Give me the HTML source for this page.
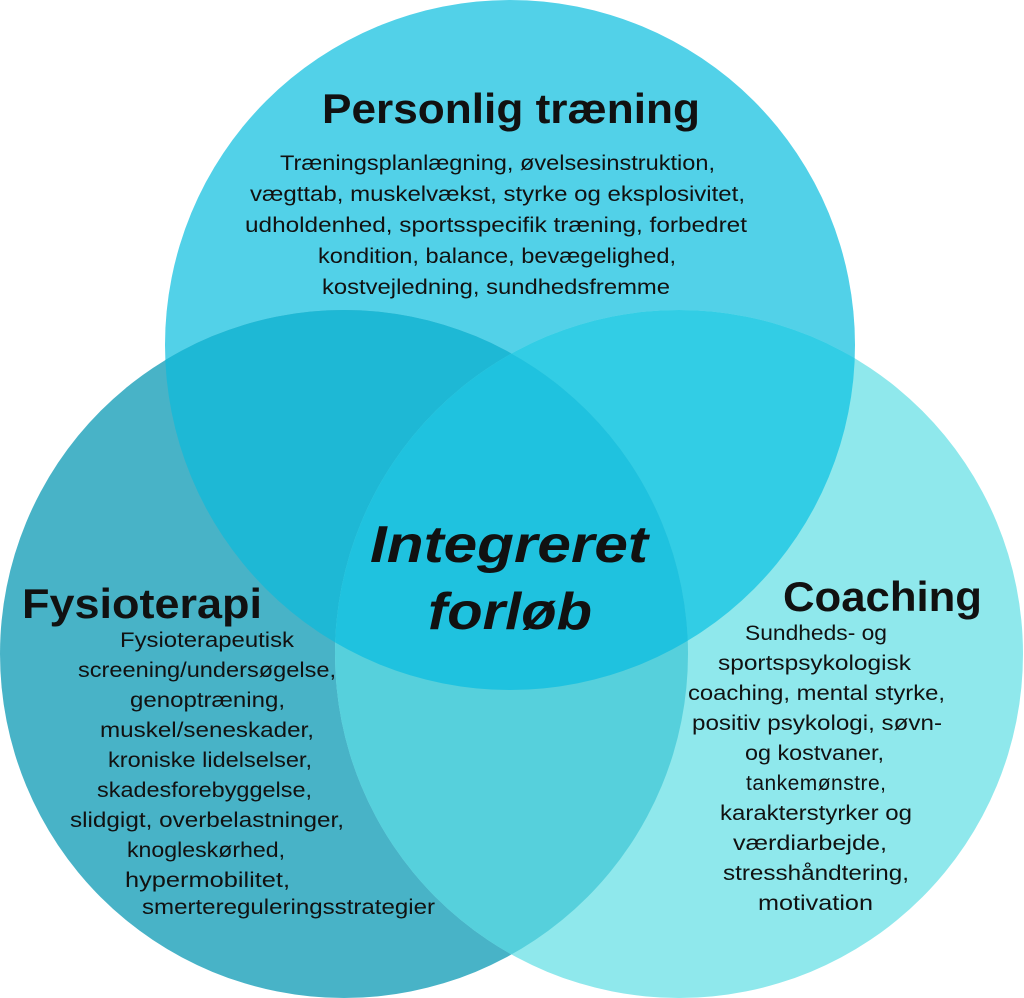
<!DOCTYPE html>
<html><head><meta charset="utf-8"><style>
html,body{margin:0;padding:0;background:#fff;}
svg{display:block;}
text{font-family:"Liberation Sans",sans-serif;fill:#111;}
.t{font-size:42px;font-weight:bold;}
.b{font-size:21px;}
</style></head><body>
<svg width="1024" height="998" viewBox="0 0 1024 998">
<defs>
<clipPath id="cT"><circle cx="510" cy="345" r="345"/></clipPath>
<clipPath id="cL"><circle cx="344" cy="654" r="344"/></clipPath>
</defs>
<circle cx="510" cy="345" r="345" fill="#52d1e8"/>
<circle cx="344" cy="654" r="344" fill="#48b3c7"/>
<circle cx="679" cy="654" r="344" fill="#8fe8ec"/>
<g clip-path="url(#cT)"><circle cx="344" cy="654" r="344" fill="#1eb8d5"/></g>
<g clip-path="url(#cT)"><circle cx="679" cy="654" r="344" fill="#32cde5"/></g>
<g clip-path="url(#cL)"><circle cx="679" cy="654" r="344" fill="#56d0dc"/></g>
<g clip-path="url(#cT)"><g clip-path="url(#cL)"><circle cx="679" cy="654" r="344" fill="#1fc2df"/></g></g>

<g>
<text class="t" x="322" y="123" textLength="378" lengthAdjust="spacingAndGlyphs">Personlig træning</text>
<text class="b" x="280" y="170" textLength="435" lengthAdjust="spacingAndGlyphs">Træningsplanlægning, øvelsesinstruktion,</text>
<text class="b" x="250" y="201" textLength="495" lengthAdjust="spacingAndGlyphs">vægttab, muskelvækst, styrke og eksplosivitet,</text>
<text class="b" x="245" y="232" textLength="502" lengthAdjust="spacingAndGlyphs">udholdenhed, sportsspecifik træning, forbedret</text>
<text class="b" x="318" y="263" textLength="358" lengthAdjust="spacingAndGlyphs">kondition, balance, bevægelighed,</text>
<text class="b" x="322" y="294" textLength="348" lengthAdjust="spacingAndGlyphs">kostvejledning, sundhedsfremme</text>

<text x="370" y="562" textLength="278" lengthAdjust="spacingAndGlyphs" style="font-size:52px;font-weight:bold;font-style:italic">Integreret</text>
<text x="428" y="629" textLength="164" lengthAdjust="spacingAndGlyphs" style="font-size:52px;font-weight:bold;font-style:italic">forløb</text>

<text class="t" x="22" y="618" textLength="240" lengthAdjust="spacingAndGlyphs">Fysioterapi</text>
<text class="b" x="120" y="647" textLength="174" lengthAdjust="spacingAndGlyphs">Fysioterapeutisk</text>
<text class="b" x="78" y="677" textLength="258" lengthAdjust="spacingAndGlyphs">screening/undersøgelse,</text>
<text class="b" x="130" y="707" textLength="155" lengthAdjust="spacingAndGlyphs">genoptræning,</text>
<text class="b" x="100" y="737" textLength="214" lengthAdjust="spacingAndGlyphs">muskel/seneskader,</text>
<text class="b" x="108" y="767" textLength="204" lengthAdjust="spacingAndGlyphs">kroniske lidelselser,</text>
<text class="b" x="97" y="797" textLength="215" lengthAdjust="spacingAndGlyphs">skadesforebyggelse,</text>
<text class="b" x="70" y="827" textLength="274" lengthAdjust="spacingAndGlyphs">slidgigt, overbelastninger,</text>
<text class="b" x="127" y="857" textLength="158" lengthAdjust="spacingAndGlyphs">knogleskørhed,</text>
<text class="b" x="125" y="887" textLength="165" lengthAdjust="spacingAndGlyphs">hypermobilitet,</text>
<text class="b" x="142" y="914" textLength="293" lengthAdjust="spacingAndGlyphs">smertereguleringsstrategier</text>

<text class="t" x="783" y="611" textLength="199" lengthAdjust="spacingAndGlyphs">Coaching</text>
<text class="b" x="745" y="640" textLength="142" lengthAdjust="spacingAndGlyphs">Sundheds- og</text>
<text class="b" x="718" y="670" textLength="193" lengthAdjust="spacingAndGlyphs">sportspsykologisk</text>
<text class="b" x="688" y="700" textLength="257" lengthAdjust="spacingAndGlyphs">coaching, mental styrke,</text>
<text class="b" x="692" y="730" textLength="250" lengthAdjust="spacingAndGlyphs">positiv psykologi, søvn-</text>
<text class="b" x="745" y="760" textLength="139" lengthAdjust="spacingAndGlyphs">og kostvaner,</text>
<text class="b" x="746" y="790" textLength="140">tankemønstre,</text>
<text class="b" x="720" y="820" textLength="192" lengthAdjust="spacingAndGlyphs">karakterstyrker og</text>
<text class="b" x="733" y="850" textLength="154" lengthAdjust="spacingAndGlyphs">værdiarbejde,</text>
<text class="b" x="723" y="880" textLength="186" lengthAdjust="spacingAndGlyphs">stresshåndtering,</text>
<text class="b" x="758" y="910" textLength="115" lengthAdjust="spacingAndGlyphs">motivation</text>
</g>
</svg>
</body></html>
